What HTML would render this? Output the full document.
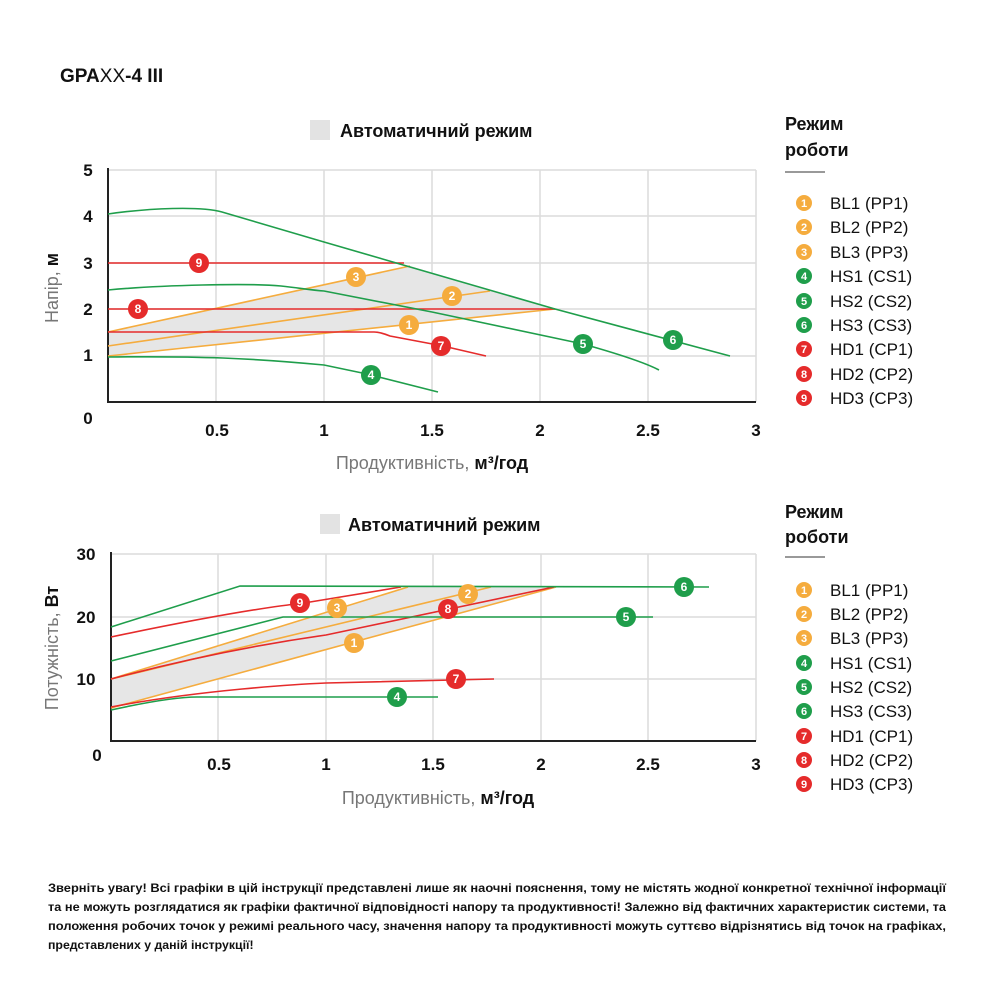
<!DOCTYPE html>
<html><head><meta charset="utf-8"><style>
body{margin:0;background:#fff;width:1000px;height:1000px;overflow:hidden;font-family:"Liberation Sans",sans-serif;}
svg{position:absolute;left:0;top:0}
.n{font:bold 12px "Liberation Sans",sans-serif;fill:#fff;text-anchor:middle}
.t{font:bold 18px "Liberation Sans",sans-serif;fill:#111}
.lg{font:17px "Liberation Sans",sans-serif;fill:#111}
.ax{font:bold 17px "Liberation Sans",sans-serif;fill:#111}
.ft{font:bold 12.3px "Liberation Sans",sans-serif;fill:#111}
</style></head><body>
<svg width="1000" height="1000" viewBox="0 0 1000 1000">
<text x="60" y="82" style="font:bold 19px 'Liberation Sans',sans-serif;fill:#111">GPA<tspan font-weight="normal">XX</tspan>-4 III</text>

<!-- TOP CHART -->
<rect x="310" y="120" width="20" height="20" fill="#e3e3e3"/>
<text x="340" y="137" class="t">Автоматичний режим</text>
<g stroke="#dcdcdc" stroke-width="1.5" fill="none">
<path d="M216,170V402M324,170V402M432,170V402M540,170V402M648,170V402M756,170V402"/>
<path d="M108,170H756M108,216H756M108,263H756M108,309H756M108,356H756"/>
</g>
<path d="M108,332 L410,266 L555,309 L108,356 Z" fill="#e6e6e6"/>
<path d="M108,168V402H756" stroke="#222" stroke-width="2" fill="none"/>
<g fill="none" stroke-width="1.6">
<path d="M108,332 L410,266" stroke="#f5ac3e"/>
<path d="M108,346 L490,291" stroke="#f5ac3e"/>
<path d="M108,356 L555,309" stroke="#f5ac3e"/>
<path d="M108,263 H404" stroke="#e52b2b"/>
<path d="M108,309 H555" stroke="#e52b2b"/>
<path d="M108,332 H374 Q380,332 390,336 L443,346 L486,356" stroke="#e52b2b"/>
<path d="M108,214 C150,208 200,206 222,212 L324,242 L555,309 L730,356" stroke="#1f9e4b"/>
<path d="M108,290 C160,285 250,283 281,286 C300,288 310,290 324,291 L432,312 L583,344 Q640,360 659,370" stroke="#1f9e4b"/>
<path d="M108,357 C200,356 250,358 324,365 L367,374 L438,392" stroke="#1f9e4b"/>
</g>
<g>
<circle cx="199" cy="263" r="10" fill="#e52b2b"/><text x="199" y="267" class="n">9</text>
<circle cx="138" cy="309" r="10" fill="#e52b2b"/><text x="138" y="313" class="n">8</text>
<circle cx="441" cy="346" r="10" fill="#e52b2b"/><text x="441" y="350" class="n">7</text>
<circle cx="356" cy="277" r="10" fill="#f5ac3e"/><text x="356" y="281" class="n">3</text>
<circle cx="452" cy="296" r="10" fill="#f5ac3e"/><text x="452" y="300" class="n">2</text>
<circle cx="409" cy="325" r="10" fill="#f5ac3e"/><text x="409" y="329" class="n">1</text>
<circle cx="673" cy="340" r="10" fill="#1f9e4b"/><text x="673" y="344" class="n">6</text>
<circle cx="583" cy="344" r="10" fill="#1f9e4b"/><text x="583" y="348" class="n">5</text>
<circle cx="371" cy="375" r="10" fill="#1f9e4b"/><text x="371" y="379" class="n">4</text>
</g>
<g class="ax" text-anchor="middle">
<text x="88" y="176">5</text><text x="88" y="222">4</text><text x="88" y="269">3</text><text x="88" y="315">2</text><text x="88" y="361">1</text><text x="88" y="424">0</text>
<text x="217" y="436">0.5</text><text x="324" y="436">1</text><text x="432" y="436">1.5</text><text x="540" y="436">2</text><text x="648" y="436">2.5</text><text x="756" y="436">3</text>
</g>
<text x="432" y="469" text-anchor="middle" style="font:18px 'Liberation Sans',sans-serif;fill:#777">Продуктивність, <tspan font-weight="bold" fill="#111">м³/год</tspan></text>
<text transform="translate(58,288) rotate(-90)" text-anchor="middle" style="font:18px 'Liberation Sans',sans-serif;fill:#777">Напір, <tspan font-weight="bold" fill="#111">м</tspan></text>

<!-- BOTTOM CHART -->
<rect x="320" y="514" width="20" height="20" fill="#e3e3e3"/>
<text x="348" y="531" class="t">Автоматичний режим</text>
<g stroke="#dcdcdc" stroke-width="1.5" fill="none">
<path d="M218,554V741M326,554V741M433,554V741M541,554V741M648,554V741M756,554V741"/>
<path d="M111,554H756M111,617H756M111,679H756"/>
</g>
<path d="M111,679 L408,587 L556,587 L111,708 Z" fill="#e6e6e6"/>
<path d="M111,552V741H756" stroke="#222" stroke-width="2" fill="none"/>
<g fill="none" stroke-width="1.6">
<path d="M111,679 L408,587" stroke="#f5ac3e"/>
<path d="M111,679 L491,587" stroke="#f5ac3e"/>
<path d="M111,708 L556,587" stroke="#f5ac3e"/>
<path d="M111,637 Q240,610 304,603 L401,587" stroke="#e52b2b"/>
<path d="M111,679 Q220,650 326,635 L554,587" stroke="#e52b2b"/>
<path d="M111,707 C200,690 300,684 326,683 L494,679" stroke="#e52b2b"/>
<path d="M111,627 L240,586 L709,587" stroke="#1f9e4b"/>
<path d="M111,661 L283,617 L653,617" stroke="#1f9e4b"/>
<path d="M111,710 Q170,697 197,697 L438,697" stroke="#1f9e4b"/>
</g>
<g>
<circle cx="300" cy="603" r="10" fill="#e52b2b"/><text x="300" y="607" class="n">9</text>
<circle cx="448" cy="609" r="10" fill="#e52b2b"/><text x="448" y="613" class="n">8</text>
<circle cx="456" cy="679" r="10" fill="#e52b2b"/><text x="456" y="683" class="n">7</text>
<circle cx="337" cy="608" r="10" fill="#f5ac3e"/><text x="337" y="612" class="n">3</text>
<circle cx="468" cy="594" r="10" fill="#f5ac3e"/><text x="468" y="598" class="n">2</text>
<circle cx="354" cy="643" r="10" fill="#f5ac3e"/><text x="354" y="647" class="n">1</text>
<circle cx="684" cy="587" r="10" fill="#1f9e4b"/><text x="684" y="591" class="n">6</text>
<circle cx="626" cy="617" r="10" fill="#1f9e4b"/><text x="626" y="621" class="n">5</text>
<circle cx="397" cy="697" r="10" fill="#1f9e4b"/><text x="397" y="701" class="n">4</text>
</g>
<g class="ax" text-anchor="middle">
<text x="86" y="560">30</text><text x="86" y="623">20</text><text x="86" y="685">10</text><text x="97" y="761">0</text>
<text x="219" y="770">0.5</text><text x="326" y="770">1</text><text x="433" y="770">1.5</text><text x="541" y="770">2</text><text x="648" y="770">2.5</text><text x="756" y="770">3</text>
</g>
<text x="438" y="804" text-anchor="middle" style="font:18px 'Liberation Sans',sans-serif;fill:#777">Продуктивність, <tspan font-weight="bold" fill="#111">м³/год</tspan></text>
<text transform="translate(58,648) rotate(-90)" text-anchor="middle" style="font:18px 'Liberation Sans',sans-serif;fill:#777">Потужність, <tspan font-weight="bold" fill="#111">Вт</tspan></text>

<!-- LEGENDS -->
<text x="785" y="130" class="t">Режим</text><text x="785" y="156" class="t">роботи</text>
<path d="M785,172H825" stroke="#333" stroke-width="1"/>
<g class="lg">
<circle cx="804" cy="203" r="8" fill="#f5ac3e"/><text x="804" y="207" class="n" style="font-size:11px">1</text><text x="830" y="209">BL1 (PP1)</text>
<circle cx="804" cy="227" r="8" fill="#f5ac3e"/><text x="804" y="231" class="n" style="font-size:11px">2</text><text x="830" y="233">BL2 (PP2)</text>
<circle cx="804" cy="252" r="8" fill="#f5ac3e"/><text x="804" y="256" class="n" style="font-size:11px">3</text><text x="830" y="258">BL3 (PP3)</text>
<circle cx="804" cy="276" r="8" fill="#1f9e4b"/><text x="804" y="280" class="n" style="font-size:11px">4</text><text x="830" y="282">HS1 (CS1)</text>
<circle cx="804" cy="301" r="8" fill="#1f9e4b"/><text x="804" y="305" class="n" style="font-size:11px">5</text><text x="830" y="307">HS2 (CS2)</text>
<circle cx="804" cy="325" r="8" fill="#1f9e4b"/><text x="804" y="329" class="n" style="font-size:11px">6</text><text x="830" y="331">HS3 (CS3)</text>
<circle cx="804" cy="349" r="8" fill="#e52b2b"/><text x="804" y="353" class="n" style="font-size:11px">7</text><text x="830" y="355">HD1 (CP1)</text>
<circle cx="804" cy="374" r="8" fill="#e52b2b"/><text x="804" y="378" class="n" style="font-size:11px">8</text><text x="830" y="380">HD2 (CP2)</text>
<circle cx="804" cy="398" r="8" fill="#e52b2b"/><text x="804" y="402" class="n" style="font-size:11px">9</text><text x="830" y="404">HD3 (CP3)</text>
</g>
<text x="785" y="518" class="t">Режим</text><text x="785" y="543" class="t">роботи</text>
<path d="M785,557H825" stroke="#333" stroke-width="1"/>
<g class="lg">
<circle cx="804" cy="590" r="8" fill="#f5ac3e"/><text x="804" y="594" class="n" style="font-size:11px">1</text><text x="830" y="596">BL1 (PP1)</text>
<circle cx="804" cy="614" r="8" fill="#f5ac3e"/><text x="804" y="618" class="n" style="font-size:11px">2</text><text x="830" y="620">BL2 (PP2)</text>
<circle cx="804" cy="638" r="8" fill="#f5ac3e"/><text x="804" y="642" class="n" style="font-size:11px">3</text><text x="830" y="644">BL3 (PP3)</text>
<circle cx="804" cy="663" r="8" fill="#1f9e4b"/><text x="804" y="667" class="n" style="font-size:11px">4</text><text x="830" y="669">HS1 (CS1)</text>
<circle cx="804" cy="687" r="8" fill="#1f9e4b"/><text x="804" y="691" class="n" style="font-size:11px">5</text><text x="830" y="693">HS2 (CS2)</text>
<circle cx="804" cy="711" r="8" fill="#1f9e4b"/><text x="804" y="715" class="n" style="font-size:11px">6</text><text x="830" y="717">HS3 (CS3)</text>
<circle cx="804" cy="736" r="8" fill="#e52b2b"/><text x="804" y="740" class="n" style="font-size:11px">7</text><text x="830" y="742">HD1 (CP1)</text>
<circle cx="804" cy="760" r="8" fill="#e52b2b"/><text x="804" y="764" class="n" style="font-size:11px">8</text><text x="830" y="766">HD2 (CP2)</text>
<circle cx="804" cy="784" r="8" fill="#e52b2b"/><text x="804" y="788" class="n" style="font-size:11px">9</text><text x="830" y="790">HD3 (CP3)</text>
</g>

<g class="ft">
<text x="48" y="892" textLength="898" lengthAdjust="spacingAndGlyphs">Зверніть увагу! Всі графіки в цій інструкції представлені лише як наочні пояснення, тому не містять жодної конкретної технічної інформації</text>
<text x="48" y="911" textLength="898" lengthAdjust="spacingAndGlyphs">та не можуть розглядатися як графіки фактичної відповідності напору та продуктивності! Залежно від фактичних характеристик системи, та</text>
<text x="48" y="930" textLength="898" lengthAdjust="spacingAndGlyphs">положення робочих точок у режимі реального часу, значення напору та продуктивності можуть суттєво відрізнятись від точок на графіках,</text>
<text x="48" y="949">представлених у даній інструкції!</text>
</g>
</svg>
</body></html>
